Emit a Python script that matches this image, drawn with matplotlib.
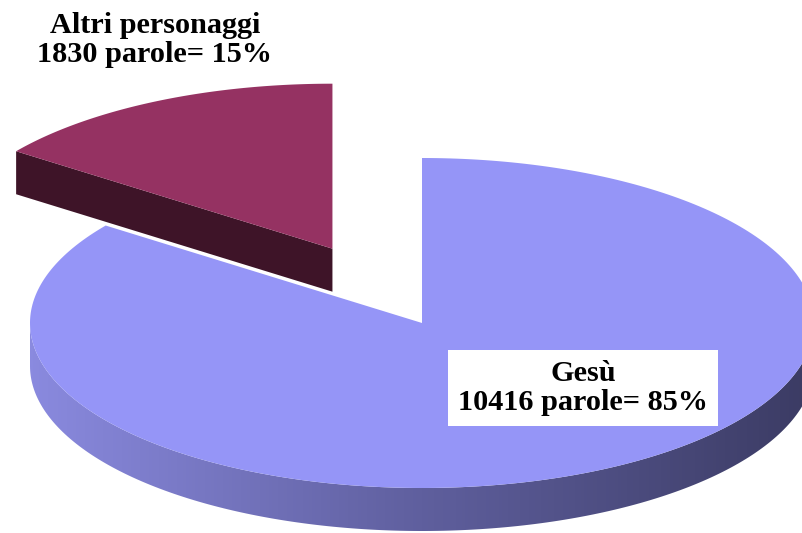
import numpy as np
import matplotlib.pyplot as plt
from matplotlib.patches import Polygon
from matplotlib.colors import LinearSegmentedColormap

# data
labels = ["Gesù", "Altri personaggi"]
words = [10416, 1830]

top_colors = ["#9595F7", "#953262"]
cut_color = "#3E1428"

# pie geometry (pixels, y down)
cx, cy = 422, 323
rx, ry = 392, 165
depth = 43
explode = [0.0, 0.505]

W, H = 803, 533
fig = plt.figure(figsize=(W / 100, H / 100), dpi=100)
ax = fig.add_axes([0, 0, 1, 1])
ax.set_xlim(0, W)
ax.set_ylim(H, 0)
ax.axis("off")

total = sum(words)
fracs = [w / total for w in words]
# start at 12 o'clock, clockwise (angles in degrees from the top)
starts = np.cumsum([0] + fracs[:-1]) * 360
ends = starts + np.array(fracs) * 360


def pt(theta, ox, oy, dz=0):
    t = np.radians(theta)
    return ox + rx * np.sin(t), oy - ry * np.cos(t) + dz


def centre(i):
    mid = np.radians((starts[i] + ends[i]) / 2)
    return (cx + explode[i] * rx * np.sin(mid),
            cy - explode[i] * ry * np.cos(mid))


# =====================
# small slice (behind)
# =====================
ox, oy = centre(1)
th = np.linspace(starts[1], ends[1], 80)
xs, ys = pt(th, ox, oy)
top = [(ox, oy)] + list(zip(xs, ys))
x0, y0 = pt(starts[1], ox, oy)
cut = [(ox, oy), (x0, y0), (x0, y0 + depth), (ox, oy + depth)]
ax.add_patch(Polygon(cut, closed=True, facecolor=cut_color, edgecolor="none"))
ax.add_patch(Polygon(top, closed=True, facecolor=top_colors[1], edgecolor="none"))

# =====================
# big slice: side band with gradient
# =====================
ox, oy = centre(0)
th = np.linspace(90, 270, 200)
xs, ys = pt(th, ox, oy)
band = list(zip(xs, ys)) + list(zip(xs[::-1], ys[::-1] + depth))
band_patch = Polygon(band, closed=True, facecolor="none", edgecolor="none")
ax.add_patch(band_patch)
cmap = LinearSegmentedColormap.from_list("side", ["#8A8ADF", "#5F5F9E", "#3B3B63"])
grad = np.linspace(0, 1, 256).reshape(1, -1)
im = ax.imshow(grad, cmap=cmap, aspect="auto",
               extent=(ox - rx, ox + rx, oy + ry + depth, oy - ry), zorder=1)
im.set_clip_path(band_patch)

th = np.linspace(starts[0], ends[0], 300)
xs, ys = pt(th, ox, oy)
top = [(ox, oy)] + list(zip(xs, ys))
ax.add_patch(Polygon(top, closed=True, facecolor=top_colors[0], edgecolor="none", zorder=2))

# =====================
# labels
# =====================
pct = [round(100 * f) for f in fracs]
font = dict(family=["Liberation Serif", "DejaVu Serif"], fontweight="bold", fontsize=21.8,
            ha="center", va="center", linespacing=1.12, zorder=5)
ax.text(583, 388, f"{labels[0]}\n{words[0]} parole= {pct[0]}%",
        bbox=dict(boxstyle="square,pad=0.33", facecolor="white", edgecolor="none"), **font)
ax.text(155, 40, f"{labels[1]}\n{words[1]} parole= {pct[1]}%", **font)

fig.savefig("out.png", dpi=100)
